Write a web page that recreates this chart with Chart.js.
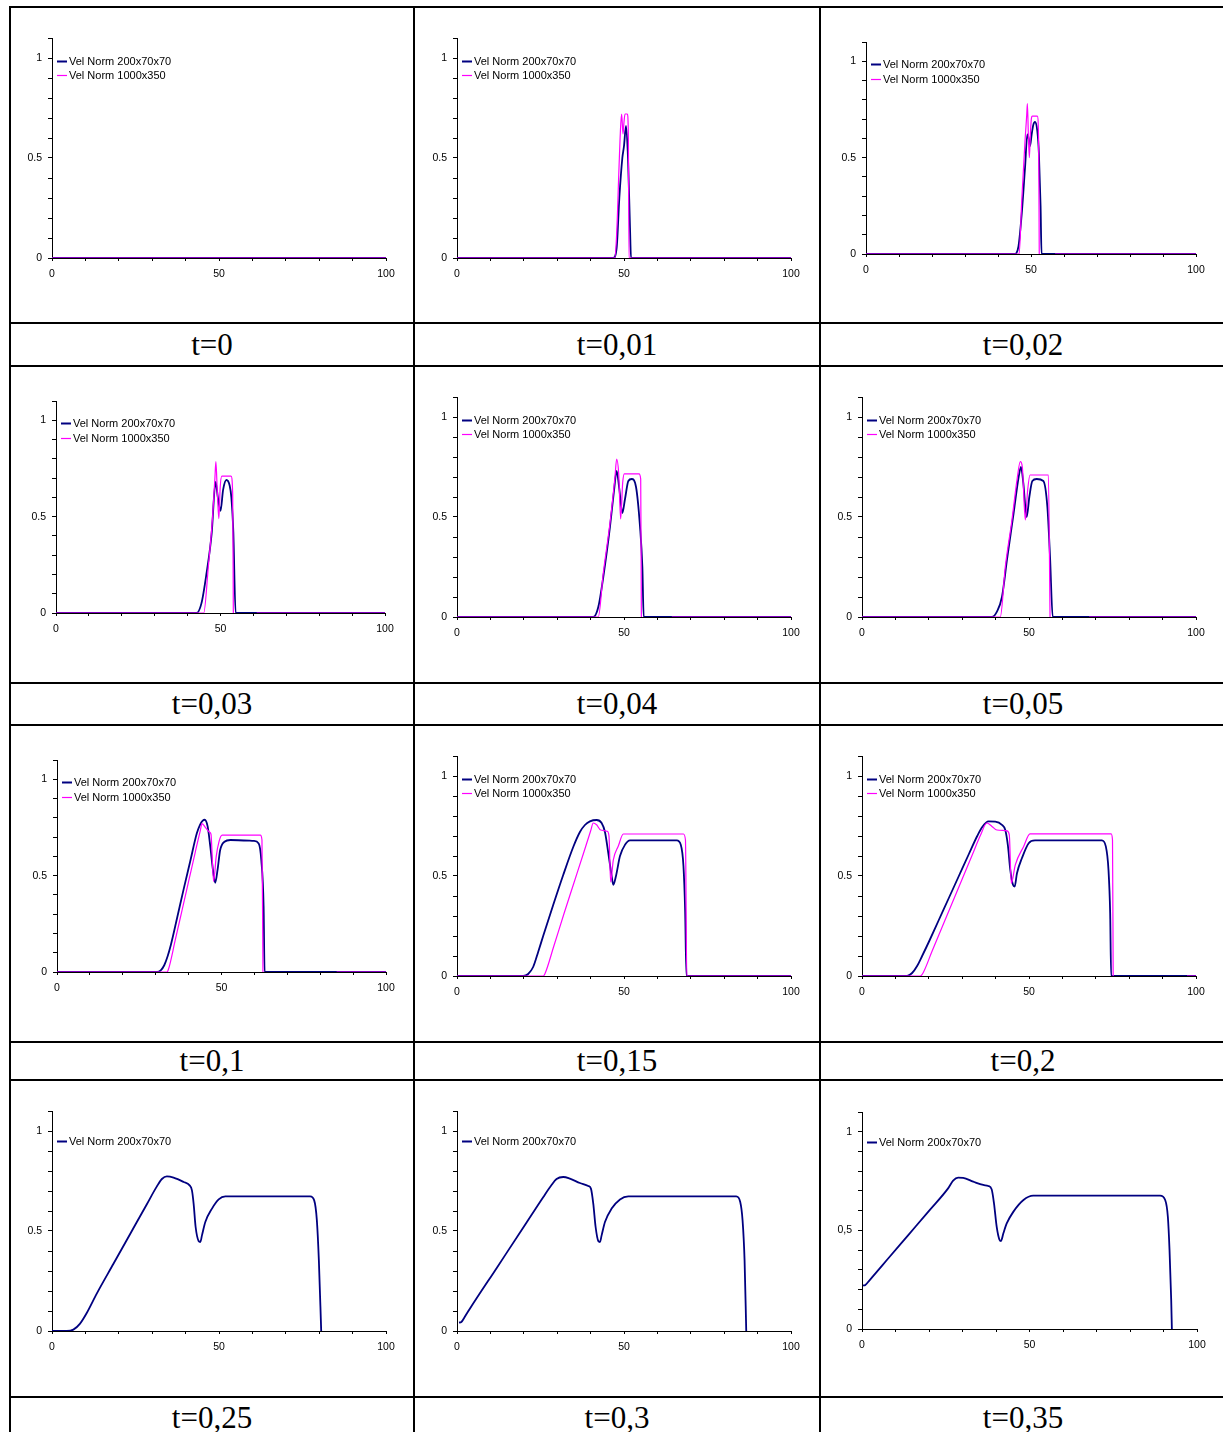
<!DOCTYPE html>
<html>
<head>
<meta charset="utf-8">
<script src="https://cdn.jsdelivr.net/npm/chart.js@4.4.0/dist/chart.umd.min.js"></script>
<style>
  body { margin: 0; background: #fff; width: 1223px; height: 1432px; overflow: hidden; position: relative; }
  .hl { position: absolute; left: 9px; width: 1216px; height: 2px; background: #000; }
  .vl { position: absolute; top: 6px; width: 2px; height: 1430px; background: #000; }
  .lab { position: absolute; display: flex; align-items: center; justify-content: center;
         font-family: "Liberation Serif", "Times New Roman", serif; font-size: 31px; color: #000; }
  canvas { position: absolute; }
</style>
</head>
<body>
<script>
// ---- data ----
const seriesNames = ['Vel Norm 200x70x70', 'Vel Norm 1000x350'];
const timeLabels = ['t=0', 't=0,01', 't=0,02', 't=0,03', 't=0,04', 't=0,05',
                    't=0,1', 't=0,15', 't=0,2', 't=0,25', 't=0,3', 't=0,35'];
const xTickLabels = [0, 50, 100];
const yTickLabels = [0, 0.5, 1];
const decimalSep = ['.', '.', '.', '.', '.', '.', '.', '.', '.', '.', '.', ','];

// [x, y] pairs, null y = gap in the line
const coarse_t0 = [[0, 0], [100, 0]];
const fine_t0 = [[0, 0], [100, 0]];

const coarse_t001 = [[0, 0], [46.8, 0], [47.8, 0.05], [48.6, 0.3], [49.5, 0.5], [50.0, 0.56], [50.6, 0.66],
  [51.2, 0.5], [51.8, 0.15], [52.1, 0], [100, 0]];
const fine_t001 = [[0, 0], [47.2, 0], [47.8, 0.12], [48.5, 0.45], [49.0, 0.66], [49.3, 0.72], [49.7, 0.62],
  [50.0, 0.68], [50.3, 0.72], [51.0, 0.72], [51.3, 0.62], [51.5, 0], [100, 0]];

const coarse_t002 = [[0, 0], [45.0, 0], [46.2, 0.04], [47.2, 0.21], [48.2, 0.45], [48.9, 0.62], [49.3, 0.6],
  [49.7, 0.56], [50.2, 0.62], [50.7, 0.67], [51.2, 0.685], [51.9, 0.64], [52.4, 0.52], [52.9, 0.25], [53.2, 0], [100, 0]];
const fine_t002 = [[0, 0], [46.4, 0], [47.2, 0.28], [48.2, 0.59], [48.7, 0.72], [48.9, 0.78], [49.2, 0.62],
  [49.5, 0.5], [49.8, 0.62], [50.1, 0.7], [50.4, 0.715], [51.9, 0.715], [52.3, 0.6], [52.5, 0],
  [55, null], [57.3, 0], [100, 0]];

const coarse_t003 = [[0, 0], [42.7, 0], [44.2, 0.05], [45.7, 0.2], [47.3, 0.41], [48.5, 0.68], [49.2, 0.6],
  [50.0, 0.53], [50.8, 0.64], [51.8, 0.69], [52.8, 0.66], [53.3, 0.6], [53.9, 0.42], [54.6, 0], [100, 0]];
const fine_t003 = [[0, 0], [44.9, 0], [46.3, 0.24], [47.6, 0.5], [48.3, 0.7], [48.6, 0.785], [49.0, 0.64],
  [49.5, 0.49], [49.9, 0.65], [50.4, 0.71], [53.2, 0.71], [53.7, 0.62], [53.9, 0],
  [57, null], [61, 0], [100, 0]];

const coarse_t004 = [[0, 0], [40.8, 0], [42.3, 0.05], [43.8, 0.2], [45.8, 0.45], [47.0, 0.63], [47.8, 0.73],
  [48.6, 0.64], [49.5, 0.52], [50.3, 0.59], [51.3, 0.68], [52.3, 0.69], [53.6, 0.65], [54.8, 0.45],
  [55.5, 0.25], [55.9, 0], [100, 0]];
const fine_t004 = [[0, 0], [42.3, 0], [43.8, 0.22], [45.8, 0.47], [47.3, 0.7], [47.8, 0.79], [48.4, 0.72],
  [49.0, 0.49], [49.6, 0.67], [50.1, 0.716], [54.5, 0.716], [55.0, 0.69], [55.2, 0],
  [60, null], [64.3, 0], [100, 0]];

const coarse_t005 = [[0, 0], [38.9, 0], [40.4, 0.027], [41.9, 0.1], [43.4, 0.285], [45.4, 0.52], [46.9, 0.7],
  [47.6, 0.75], [48.3, 0.67], [49.3, 0.5], [50.1, 0.6], [51.0, 0.68], [52.3, 0.69], [54.3, 0.68],
  [55.5, 0.55], [56.3, 0.3], [57.1, 0], [100, 0]];
const fine_t005 = [[0, 0], [41.4, 0], [42.9, 0.25], [44.9, 0.485], [46.4, 0.685], [47.4, 0.777], [48.0, 0.75],
  [48.9, 0.485], [49.6, 0.635], [50.3, 0.71], [55.8, 0.71], [56.3, 0],
  [62, null], [68, 0], [100, 0]];

const coarse_t010 = [[0, 0], [30.4, 0], [31.6, 0.01], [32.6, 0.035], [33.6, 0.08], [34.6, 0.14], [36.5, 0.28],
  [38.5, 0.43], [40.5, 0.575], [42.5, 0.72], [43.5, 0.765], [44.3, 0.785], [44.9, 0.79], [45.8, 0.754],
  [46.6, 0.65], [47.4, 0.53], [48.1, 0.463], [48.8, 0.53], [49.6, 0.633], [50.9, 0.676], [52.7, 0.685],
  [59.8, 0.68], [61.3, 0.667], [62.1, 0.58], [62.8, 0.34], [63.1, 0], [100, 0]];
const fine_t010 = [[0, 0], [33.4, 0], [33.8, 0.01], [36.0, 0.17], [38.0, 0.32], [40.0, 0.47], [42.0, 0.62],
  [43.5, 0.73], [44.1, 0.77], [45.1, 0.75], [46.4, 0.725], [46.8, 0.715], [47.6, 0.47], [48.4, 0.6],
  [49.3, 0.68], [50.2, 0.71], [61.8, 0.71], [62.3, 0.685], [62.6, 0],
  [75, null], [85, 0], [100, 0]];

const coarse_t015 = [[0, 0], [19.8, 0], [21.3, 0.01], [22.8, 0.045], [24.3, 0.12], [25.8, 0.2], [28.8, 0.355],
  [31.8, 0.505], [34.8, 0.645], [36.8, 0.72], [38.3, 0.755], [39.8, 0.773], [41.8, 0.78], [43.3, 0.765],
  [44.3, 0.72], [45.3, 0.614], [46.3, 0.5], [46.8, 0.456], [47.6, 0.5], [48.8, 0.6], [50.3, 0.656],
  [51.8, 0.678], [65.8, 0.678], [67.0, 0.656], [67.8, 0.55], [68.3, 0.33], [68.7, 0], [100, 0]];
const fine_t015 = [[0, 0], [25.8, 0], [26.3, 0.01], [29.0, 0.15], [32.0, 0.31], [35.0, 0.465], [38.0, 0.62],
  [40.0, 0.725], [40.8, 0.765], [41.8, 0.756], [43.0, 0.73], [45.0, 0.723], [45.5, 0.7], [46.0, 0.47],
  [46.8, 0.58], [48.3, 0.65], [49.8, 0.71], [67.8, 0.71], [68.4, 0.68], [68.8, 0], [100, 0]];

const coarse_t020 = [[0, 0], [13.5, 0], [15.0, 0.015], [16.5, 0.05], [18.0, 0.1], [20.0, 0.17], [23.0, 0.28],
  [26.0, 0.39], [29.0, 0.5], [32.0, 0.61], [34.5, 0.7], [36.0, 0.745], [37.9, 0.773], [39.9, 0.772],
  [41.9, 0.756], [42.9, 0.73], [43.7, 0.65], [44.4, 0.53], [45.2, 0.456], [45.7, 0.447], [46.4, 0.514],
  [47.9, 0.59], [49.9, 0.664], [51.8, 0.678], [71.8, 0.678], [73.0, 0.648], [73.8, 0.53], [74.3, 0.314],
  [74.6, 0], [100, 0]];
const fine_t020 = [[0, 0], [17.4, 0], [18.1, 0.01], [21.0, 0.125], [24.0, 0.245], [27.0, 0.365], [30.0, 0.485],
  [33.0, 0.605], [35.5, 0.705], [37.4, 0.765], [38.9, 0.748], [40.4, 0.73], [43.4, 0.726], [44.1, 0.706],
  [44.7, 0.464], [45.9, 0.556], [48.4, 0.648], [50.3, 0.711], [74.6, 0.711], [75.0, 0.68], [75.2, 0],
  [85, null], [97.3, 0], [100, 0]];

const coarse_t025 = [[0, 0], [4.4, 0], [6.4, 0.007], [8.4, 0.037], [10.4, 0.09], [13.4, 0.187], [18.4, 0.336],
  [23.4, 0.485], [28.4, 0.634], [31.4, 0.723], [32.9, 0.76], [34.4, 0.773], [36.4, 0.767], [39.4, 0.745],
  [41.2, 0.728], [41.9, 0.703], [42.4, 0.637], [43.0, 0.52], [43.9, 0.45], [44.4, 0.445], [44.9, 0.478],
  [45.9, 0.545], [47.9, 0.612], [49.9, 0.658], [51.9, 0.673], [77.3, 0.673], [78.5, 0.653], [79.3, 0.553],
  [79.9, 0.353], [80.6, 0]];

const coarse_t030 = [[0.6, 0.042], [1.3, 0.045], [2.3, 0.07], [3.8, 0.11], [11.8, 0.313], [19.8, 0.516],
  [25.8, 0.669], [28.3, 0.73], [29.8, 0.76], [31.8, 0.77], [33.8, 0.762], [36.8, 0.74], [39.3, 0.725],
  [40.1, 0.712], [40.8, 0.637], [41.5, 0.52], [42.3, 0.45], [42.8, 0.445], [43.3, 0.478], [44.3, 0.545],
  [46.3, 0.612], [48.8, 0.658], [51.3, 0.673], [83.6, 0.673], [84.8, 0.645], [85.5, 0.553], [86.1, 0.353],
  [86.6, 0]];

const coarse_t035 = [[0.3, 0.22], [1.0, 0.223], [2.3, 0.248], [8.0, 0.361], [14.0, 0.48], [20.0, 0.599],
  [25.7, 0.713], [27.2, 0.752], [28.7, 0.767], [30.2, 0.766], [33.2, 0.747], [36.2, 0.73], [37.7, 0.725],
  [38.7, 0.708], [39.4, 0.637], [40.2, 0.519], [41.0, 0.454], [41.5, 0.446], [42.2, 0.485], [43.2, 0.535],
  [45.2, 0.595], [48.2, 0.654], [51.1, 0.676], [89.0, 0.676], [90.5, 0.654], [91.3, 0.569], [91.8, 0.4],
  [92.3, 0.147], [92.5, 0]];

const coarseRuns = [coarse_t0, coarse_t001, coarse_t002, coarse_t003, coarse_t004, coarse_t005,
  coarse_t010, coarse_t015, coarse_t020, coarse_t025, coarse_t030, coarse_t035];
const fineRuns = [fine_t0, fine_t001, fine_t002, fine_t003, fine_t004, fine_t005,
  fine_t010, fine_t015, fine_t020, null, null, null];

// ---- layout (page pixels) ----
// plot box per panel: [x of 0, x of 100, y of 1, y of 0]
const plotBoxes = [
  [52, 386, 58, 258], [457, 791, 58, 258], [866, 1196, 61, 254],
  [56, 385, 420, 613], [457, 791, 417, 617], [862, 1196, 417, 617],
  [57, 386, 779, 972], [457, 791, 776, 976], [862, 1196, 776, 976],
  [52, 386, 1131, 1331], [457, 791, 1131, 1331], [862, 1197, 1132, 1329]
];
const hLines = [6, 322, 365, 682, 724, 1041, 1079, 1396];
const vLines = [9, 413, 819];
const colLeft = [11, 415, 821];
const colWidth = [402, 404, 404];
const labelRows = [[324, 41], [684, 40], [1043, 36], [1398, 40]];

const YW = 40, XB = 30, PT = 8, PR = 18;

hLines.forEach(y => {
  const d = document.createElement('div');
  d.className = 'hl'; d.style.top = y + 'px';
  document.body.appendChild(d);
});
vLines.forEach(x => {
  const d = document.createElement('div');
  d.className = 'vl'; d.style.left = x + 'px';
  document.body.appendChild(d);
});

Chart.defaults.font.family = '"Liberation Sans", Arial, sans-serif';
Chart.defaults.color = '#000';

// legend drawn inside the plot, stacked, like the original
const insideLegend = {
  id: 'insideLegend',
  afterDraw(chart) {
    const ctx = chart.ctx;
    const sets = chart.data.datasets;
    const left = chart.chartArea.left;
    const y1 = chart.scales.y.getPixelForValue(1);
    const start = sets.length > 1 ? y1 + 2.5 : y1 + 10;
    ctx.save();
    ctx.font = '11px "Liberation Sans", Arial, sans-serif';
    ctx.textBaseline = 'middle';
    sets.forEach((ds, i) => {
      const y = Math.round(start + i * 14.8);
      ctx.strokeStyle = ds.borderColor;
      ctx.lineWidth = ds.legendWidth;
      ctx.beginPath();
      ctx.moveTo(left + 5, y + 0.5);
      ctx.lineTo(left + 15, y + 0.5);
      ctx.stroke();
      ctx.fillStyle = '#000';
      ctx.fillText(ds.label, left + 17, y + 1);
    });
    ctx.restore();
  }
};

function near(v, list) {
  return list.find(t => Math.abs(v - t) < 1e-6);
}

for (let i = 0; i < 12; i++) {
  const [x0, x100, y1, y0] = plotBoxes[i];
  const top = Math.round(y1 - 0.1 * (y0 - y1));
  const cv = document.createElement('canvas');
  const w = x100 - x0 + YW + PR;
  const h = y0 - top + PT + XB;
  cv.width = w; cv.height = h;
  cv.style.width = w + 'px'; cv.style.height = h + 'px';
  cv.style.left = (x0 - YW) + 'px';
  cv.style.top = (top - PT) + 'px';
  document.body.appendChild(cv);

  const datasets = [{
    label: seriesNames[0],
    data: coarseRuns[i],
    borderColor: '#000080',
    borderWidth: 1.8,
    legendWidth: 2,
    order: 1
  }];
  if (fineRuns[i]) {
    datasets.push({
      label: seriesNames[1],
      data: fineRuns[i],
      borderColor: '#ff00ff',
      borderWidth: 1.2,
      legendWidth: 1.2,
      order: 0
    });
  }
  datasets.forEach(ds => {
    ds.pointRadius = 0;
    ds.fill = false;
    ds.spanGaps = false;
    ds.cubicInterpolationMode = 'monotone';
  });

  const sep = decimalSep[i];
  new Chart(cv, {
    type: 'line',
    data: { datasets: datasets },
    options: {
      responsive: false,
      animation: false,
      devicePixelRatio: 1,
      layout: { padding: { top: PT, right: PR, left: 0, bottom: 0 } },
      plugins: { legend: { display: false }, tooltip: { enabled: false } },
      scales: {
        x: {
          type: 'linear', min: 0, max: 100,
          afterFit(s) { s.height = XB; s.paddingLeft = 0; s.paddingRight = 0; },
          grid: { drawOnChartArea: false, drawTicks: true, tickLength: 3, color: '#000' },
          border: { display: true, color: '#000', width: 1 },
          ticks: {
            stepSize: 10, autoSkip: false, maxRotation: 0, padding: 7,
            font: { size: 10.5 }, color: '#000',
            callback: v => near(v, xTickLabels) !== undefined ? String(v) : ''
          }
        },
        y: {
          min: 0, max: 1.1,
          afterFit(s) { s.width = YW; s.paddingTop = 0; s.paddingBottom = 0; },
          grid: { drawOnChartArea: false, drawTicks: true, tickLength: 4, color: '#000' },
          border: { display: true, color: '#000', width: 1 },
          ticks: {
            stepSize: 0.1, autoSkip: false, padding: 6,
            font: { size: 10.5 }, color: '#000',
            callback: v => {
              const t = near(v, yTickLabels);
              return t === undefined ? '' : String(t).replace('.', sep);
            }
          }
        }
      }
    },
    plugins: [insideLegend]
  });
}

// time labels under each panel
timeLabels.forEach((txt, i) => {
  const r = Math.floor(i / 3), c = i % 3;
  const d = document.createElement('div');
  d.className = 'lab';
  d.style.left = colLeft[c] + 'px';
  d.style.width = colWidth[c] + 'px';
  d.style.top = labelRows[r][0] + 'px';
  d.style.height = labelRows[r][1] + 'px';
  d.textContent = txt;
  document.body.appendChild(d);
});
</script>
</body>
</html>
